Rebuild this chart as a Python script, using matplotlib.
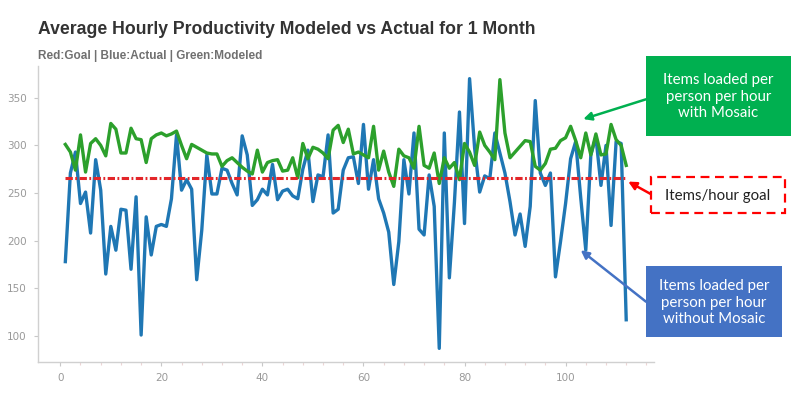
import numpy as np
import matplotlib.pyplot as plt
from matplotlib.patches import Rectangle

# day index 1..112
days = list(range(1, 113))

actual = [178, 271, 293, 239, 251, 208, 285, 253, 165, 215,
          190, 233, 232, 170, 246, 101, 225, 185, 215, 217,
          215, 244, 311, 253, 264, 254, 159, 211, 290, 249,
          249, 276, 274, 260, 248, 310, 290, 237, 243, 254,
          248, 280, 243, 252, 254, 247, 244, 275, 295, 241,
          269, 267, 311, 229, 233, 274, 287, 288, 260, 322,
          254, 285, 244, 229, 209, 154, 199, 285, 249, 313,
          212, 206, 269, 236, 87, 313, 161, 240, 335, 218,
          370, 297, 251, 268, 265, 313, 292, 271, 241, 206,
          228, 194, 236, 347, 271, 258, 271, 162, 199, 239,
          286, 304, 245, 190, 290, 309, 258, 300, 216, 304,
          302, 117]

modeled = [301, 293, 274, 311, 272, 302, 307, 300, 289, 323,
           317, 292, 292, 318, 307, 306, 282, 307, 311, 313,
           310, 312, 315, 300, 286, 301, 298, 295, 292, 291,
           291, 278, 284, 287, 282, 277, 273, 270, 295, 272,
           282, 284, 285, 273, 274, 287, 266, 302, 286, 298,
           296, 292, 286, 316, 321, 303, 317, 291, 293, 290,
           287, 320, 274, 294, 272, 257, 296, 289, 287, 276,
           320, 279, 276, 292, 260, 287, 276, 282, 264, 302,
           293, 279, 314, 300, 293, 285, 369, 313, 287, 293,
           299, 305, 304, 278, 274, 281, 296, 297, 305, 308,
           320, 305, 287, 313, 290, 312, 290, 291, 322, 306,
           300, 279]

goal = 266

title = "Average Hourly Productivity Modeled vs Actual for 1 Month"
subtitle = "Red:Goal | Blue:Actual | Green:Modeled"
note_green = "Items loaded per\nperson per hour\nwith Mosaic"
note_goal = "Items/hour goal"
note_blue = "Items loaded per\nperson per hour\nwithout Mosaic"

W, H = 802, 398


def fx(px):
    return px / W


def fy(py):
    return 1 - py / H


fig = plt.figure(figsize=(W / 100, H / 100), dpi=100)
ax = fig.add_axes([fx(37.7), fy(361.7), fx(654 - 37.7), (361.7 - 66) / H])

ax.plot(days, actual, color='#1f77b4', lw=2.4, zorder=3)
ax.plot(days, modeled, color='#2ca02c', lw=2.4, zorder=4)
ax.plot([days[0], days[-1]], [goal, goal], color='#e3262a', lw=2.2,
        linestyle=(0, (2.4, 0.8, 0.6, 0.8)), zorder=5)

ax.set_xlim(-4.47, 117.5)
ax.set_ylim(73, 383.3)
ax.set_xticks([0, 20, 40, 60, 80, 100])
ax.set_yticks([100, 150, 200, 250, 300, 350])
ax.set_xticks(np.arange(0, 117, 4), minor=True)

for s in ['top', 'right']:
    ax.spines[s].set_visible(False)
for s in ['left', 'bottom']:
    ax.spines[s].set_color('#d0d0d0')
    ax.spines[s].set_linewidth(1.0)

ax.tick_params(axis='both', which='major', colors='#c8c8c8', labelcolor='#999999',
               labelsize=7.5, length=3, width=0.8, pad=5)
ax.tick_params(axis='x', which='minor', colors='#ecd4d4', length=2, width=0.8)

fig.text(fx(38), fy(34.3), title, fontsize=12.7, fontweight='bold', color='#333333',
         family='Liberation Sans', va='baseline', ha='left')
fig.text(fx(38), fy(59.3), subtitle, fontsize=8.5, fontweight='bold', color='#707070',
         family='Liberation Sans', va='baseline', ha='left')

# annotation boxes
fig.patches.append(Rectangle((fx(646), fy(135.7)), fx(144.7), 79.7 / H,
                             transform=fig.transFigure, facecolor='#00b050',
                             edgecolor='none', zorder=1))
fig.patches.append(Rectangle((fx(650.7), fy(213.3)), fx(134.6), 36 / H,
                             transform=fig.transFigure, facecolor='white',
                             edgecolor='#ff0000', lw=1.6, linestyle=(0, (4, 2.5)),
                             zorder=1))
fig.patches.append(Rectangle((fx(646), fy(336.7)), fx(135.7), 70.7 / H,
                             transform=fig.transFigure, facecolor='#4472c4',
                             edgecolor='none', zorder=1))

fig.text(fx(718.3), fy(96.5), note_green, color='white', fontsize=10.8, family='Lato',
         ha='center', va='center', linespacing=1.22)
fig.text(fx(718), fy(196), note_goal, color='#222222', fontsize=10.8, family='Lato',
         ha='center', va='center')
fig.text(fx(713.8), fy(302.5), note_blue, color='white', fontsize=10.8, family='Lato',
         ha='center', va='center', linespacing=1.22)

arrow = dict(arrowstyle='-|>', lw=1.8, mutation_scale=12, shrinkA=0, shrinkB=0)
ax.annotate('', xy=(103.5, 327.6), xycoords='data',
            xytext=(fx(646), fy(99.3)), textcoords='figure fraction',
            arrowprops=dict(arrow, color='#00b050'), annotation_clip=False)
ax.annotate('', xy=(112.4, 262), xycoords='data',
            xytext=(fx(650.7), fy(194)), textcoords='figure fraction',
            arrowprops=dict(arrow, color='#ff0000'), annotation_clip=False)
ax.annotate('', xy=(103, 190), xycoords='data',
            xytext=(fx(646), fy(301.7)), textcoords='figure fraction',
            arrowprops=dict(arrow, color='#4472c4'), annotation_clip=False)

fig.savefig('out.png', dpi=100)
